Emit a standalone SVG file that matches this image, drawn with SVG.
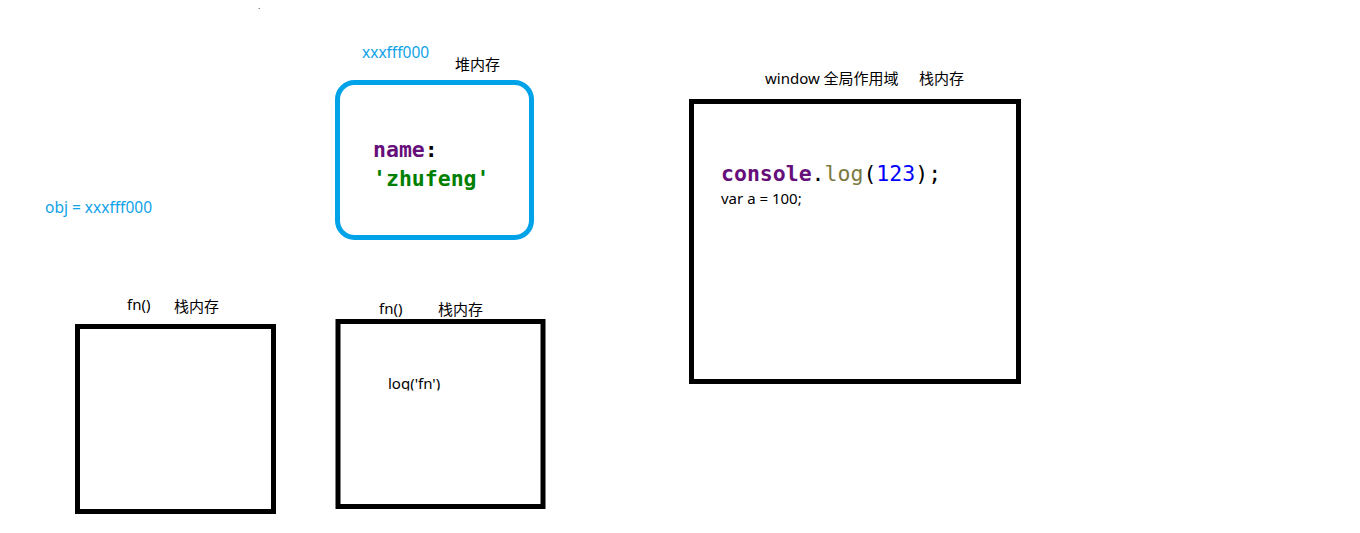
<svg xmlns="http://www.w3.org/2000/svg" width="1360" height="533" viewBox="0 0 1360 533">
<style>
.lbl{font-family:"Noto Sans","Noto Sans CJK SC",sans-serif;font-size:15px;fill:#000}
.blue{fill:#0EA2E8}
.box{fill:#fff;stroke:#000;stroke-width:5}
.code{font-family:"DejaVu Sans Mono","Liberation Mono",monospace;font-size:21.5px}
.b{font-weight:bold}
</style>
<defs>
<clipPath id="clipLog"><rect x="330" y="360" width="200" height="30.5"/></clipPath>
</defs>
<rect width="1360" height="533" fill="#fff"/>
<text x="258" y="9" class="lbl" style="font-size:9px;fill:#444">.</text>
<g id="connectors"></g>
<g id="heap">
<rect x="337.5" y="82.5" width="194" height="155" rx="17" fill="#fff" stroke="#00A2E8" stroke-width="5"/>
<text x="362" y="58" class="lbl blue" style="font-size:15.5px">xxxfff000</text>
<text x="455" y="70" class="lbl">堆内存</text>
<text x="373" y="157" class="code b" fill="#660E7A">name<tspan fill="#000">:</tspan></text>
<text x="373" y="186" class="code b" fill="#008000">'zhufeng'</text>
</g>
<g id="obj-label">
<text x="45" y="213" class="lbl blue" style="font-size:15.5px">obj = xxxfff000</text>
</g>
<g id="fn-stack-1">
<rect x="77.5" y="326.5" width="196" height="185" class="box"/>
<text x="127" y="310" class="lbl">fn()</text>
<text x="174" y="312" class="lbl">栈内存</text>
</g>
<g id="fn-stack-2">
<rect x="338" y="321.5" width="205" height="185" class="box"/>
<text x="379" y="314" class="lbl">fn()</text>
<text x="438" y="315" class="lbl">栈内存</text>
<text x="388" y="389" class="lbl" clip-path="url(#clipLog)">log('fn')</text>
</g>
<g id="window-stack">
<rect x="691.5" y="101.5" width="327" height="280" class="box"/>
<text x="765" y="84" class="lbl">window 全局作用域</text>
<text x="919" y="84" class="lbl">栈内存</text>
<text x="721" y="181" class="code"><tspan class="b" fill="#660E7A">console</tspan><tspan fill="#000">.</tspan><tspan fill="#7A7A43">log</tspan><tspan fill="#000">(</tspan><tspan fill="#0000FF">123</tspan><tspan fill="#000">);</tspan></text>
<text x="721" y="204" class="lbl" style="font-size:15px">var a = 100;</text>
</g>
</svg>
